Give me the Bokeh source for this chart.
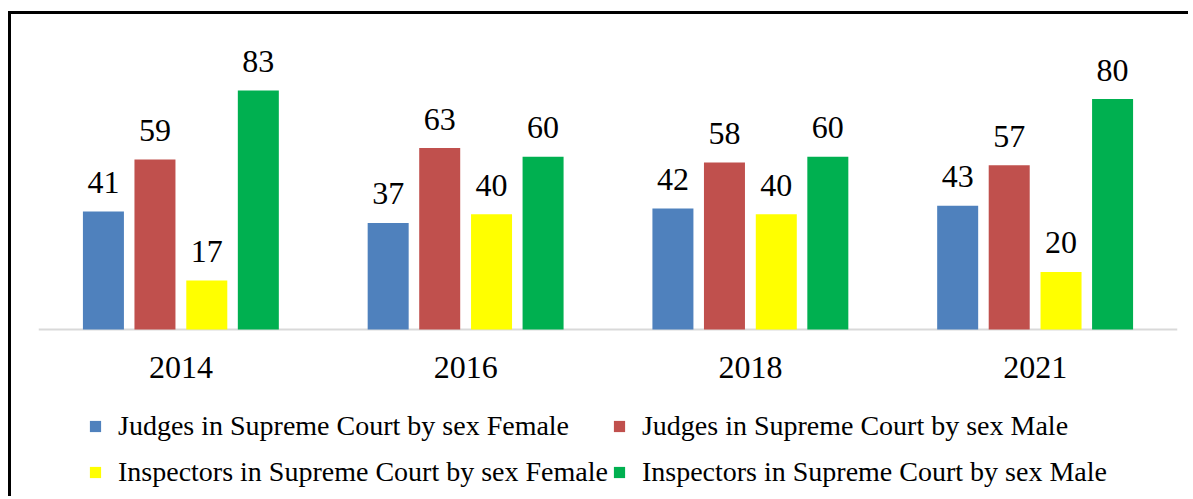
from bokeh.plotting import figure
from bokeh.models import ColumnDataSource, FactorRange, Legend, LegendItem, Range1d
from bokeh.transform import dodge
from bokeh.core.properties import value
from bokeh.embed import file_html
from bokeh.resources import INLINE

years = ["2014", "2016", "2018", "2021"]
judges_female = [41, 37, 42, 43]
judges_male = [59, 63, 58, 57]
inspectors_female = [17, 40, 40, 20]
inspectors_male = [83, 60, 60, 80]

series_names = [
    "Judges in Supreme Court by sex Female",
    "Judges in Supreme Court by sex Male",
    "Inspectors in Supreme Court by sex Female",
    "Inspectors in Supreme Court by sex Male",
]
series_values = [judges_female, judges_male, inspectors_female, inspectors_male]
colors = ["#4F81BD", "#C0504D", "#FFFF00", "#00B050"]
offsets = [-0.272, -0.091, 0.091, 0.272]

FONT = "Liberation Serif"

p = figure(
    x_range=FactorRange(*years, range_padding=0),
    y_range=Range1d(-59.0, 103.8),
    width=1180, height=485,
    output_backend="svg", toolbar_location=None,
    min_border_left=27, min_border_right=14, min_border_top=16, min_border_bottom=0,
)
p.styles = {"border-left": "3px solid black", "border-top": "3px solid black",
            "margin-top": "11px", "margin-left": "8px"}
p.xaxis.visible = False
p.yaxis.visible = False
p.xgrid.grid_line_color = None
p.ygrid.grid_line_color = None
p.outline_line_color = None

# category baseline spanning the full category extent (synthetic coordinates)
p.quad(left=[0], right=[len(years)], bottom=[-0.35], top=[0.35],
       fill_color="#D9D9D9", line_color=None)

items = []
for name, vals, col, off in zip(series_names, series_values, colors, offsets):
    src = ColumnDataSource(dict(x=years, y=vals, lab=[str(v) for v in vals]))
    r = p.vbar(x=dodge("x", off, range=p.x_range), top="y", width=0.144, source=src,
               fill_color=col, line_color=None)
    p.text(x=dodge("x", off, range=p.x_range), y="y", text="lab", source=src,
           text_align="center", text_baseline="alphabetic", y_offset=-29,
           text_font=value(FONT), text_font_size="32px", text_color="black")
    items.append(LegendItem(label=name, renderers=[r]))

ysrc = ColumnDataSource(dict(x=years, y=[0] * len(years)))
p.text(x="x", y="y", text="x", source=ysrc, text_align="center",
       text_baseline="alphabetic", y_offset=38,
       text_font=value(FONT), text_font_size="32px", text_color="black")

legend = Legend(items=items, orientation="horizontal", ncols=2, location=(50, 6),
                label_text_font=FONT, label_text_font_size="28px", label_text_color="black",
                glyph_width=14, glyph_height=14, label_standoff=16, spacing=4,
                label_height=42, border_line_color=None, background_fill_alpha=0,
                margin=0, padding=6)
p.add_layout(legend, "center")

open("out.html", "w").write(file_html(p, INLINE))
